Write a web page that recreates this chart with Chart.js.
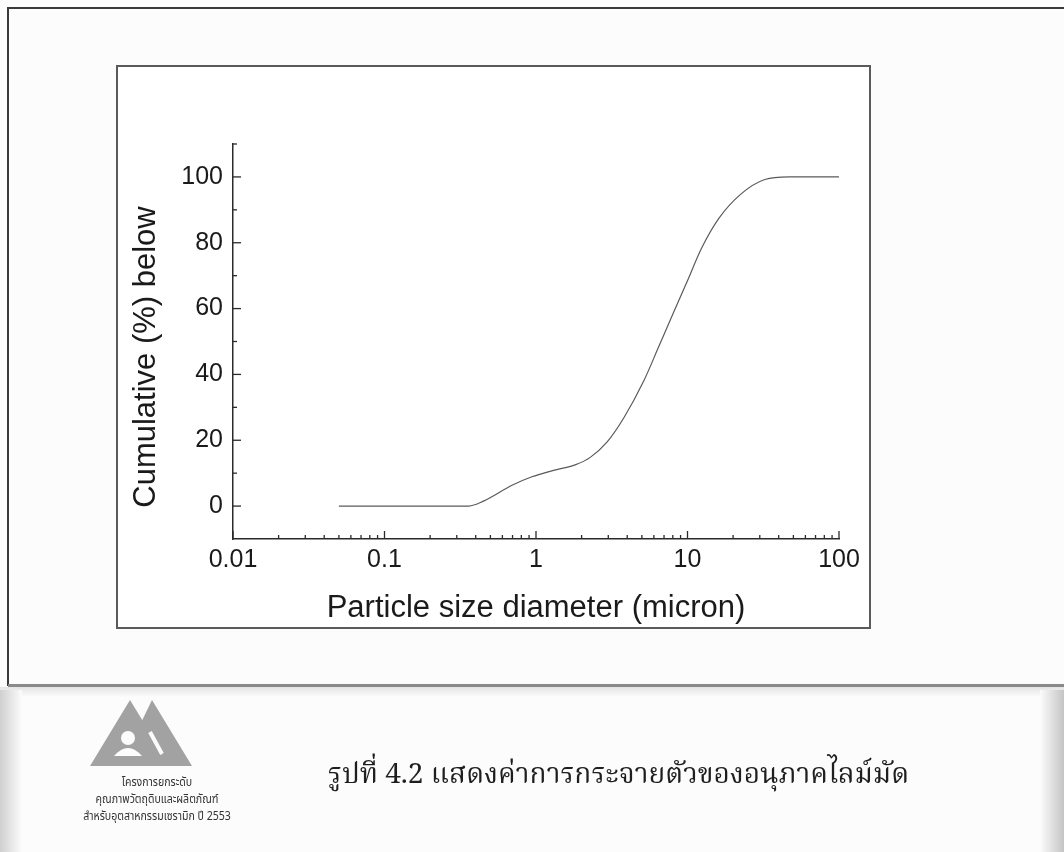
<!DOCTYPE html>
<html>
<head>
<meta charset="utf-8">
<script src="https://cdn.jsdelivr.net/npm/chart.js@4.4.1/dist/chart.umd.min.js"></script>
<style>
  html, body { margin: 0; padding: 0; }
  body { width: 1064px; height: 852px; position: relative; background: #fcfcfc; overflow: hidden; font-family: "Liberation Sans", Arial, sans-serif; }
  #outerTop { position: absolute; left: 7px; top: 7px; width: 1057px; height: 0; border-top: 2px solid #3a3a3a; }
  #outerLeft { position: absolute; left: 7px; top: 7px; width: 0; height: 679px; border-left: 2px solid #3a3a3a; }
  #frame { position: absolute; left: 116px; top: 65px; width: 755px; height: 564px; box-sizing: border-box; border: 2px solid #5a5a5a; background: #ffffff; }
  #sep { position: absolute; left: 8px; top: 684px; width: 1056px; height: 3px; background: #8a8a8a; }
  #band { position: absolute; left: 0; top: 687px; width: 1064px; height: 10px; background: linear-gradient(#e4e4e4, #fcfcfc); }
  #leftSmudge { position: absolute; left: 0; top: 690px; width: 22px; height: 162px; background: linear-gradient(90deg, #cfcfcf, #fcfcfc); }
  #rightSmudge { position: absolute; left: 1040px; top: 690px; width: 24px; height: 162px; background: linear-gradient(90deg, #fcfcfc, #c4c4c4); }
  #chartCanvas { position: absolute; left: 0; top: 0; }
  #logo { position: absolute; left: 86px; top: 696px; }
  .logoText { position: absolute; left: 37px; width: 240px; text-align: center; font-family: "Noto Sans Thai", "Noto Serif Thai", "Loma", "Garuda", "Tlwg Typo", "Norasi", sans-serif; font-size: 12px; color: #333; line-height: 14px; transform: scaleX(0.88); }
  #caption { position: absolute; left: 328px; top: 753px; font-family: "Noto Serif Thai", "Norasi", "Noto Sans Thai", "Loma", "Garuda", serif; font-size: 28px; color: #1e1e1e; white-space: nowrap; }
</style>
</head>
<body>
<div id="outerTop"></div>
<div id="outerLeft"></div>
<div id="frame"></div>
<div id="sep"></div>
<div id="band"></div>
<div id="leftSmudge"></div>
<div id="rightSmudge"></div>
<canvas id="chartCanvas" width="1064" height="852"></canvas>
<svg id="logo" width="110" height="75" viewBox="0 0 110 75">
  <polygon points="4,70 44,4 66,40 66,70" fill="#a2a2a2"/>
  <polygon points="34,70 66,4 106,70" fill="#a2a2a2"/>
  <circle cx="42" cy="42" r="7" fill="#fcfcfc"/>
  <path d="M28,60 Q42,44 56,60 Z" fill="#fcfcfc"/>
  <line x1="64" y1="36" x2="76" y2="58" stroke="#fcfcfc" stroke-width="4"/>
</svg>
<div class="logoText" style="top:775px;">โครงการยกระดับ</div>
<div class="logoText" style="top:792px;">คุณภาพวัตถุดิบและผลิตภัณฑ์</div>
<div class="logoText" style="top:809px;">สำหรับอุตสาหกรรมเซรามิก ปี 2553</div>
<div id="caption">รูปที่ 4.2 แสดงค่าการกระจายตัวของอนุภาคไลม์มัด</div>
<script>
// ---- Data ----
const particleSize = [0.05, 0.1, 0.2, 0.36, 0.45, 0.70, 0.94, 1.27, 1.83, 2.28, 2.95, 3.82, 5.13, 6.40, 7.98, 9.96, 12.4, 16.1, 22.4, 32.4, 46.8, 100];
const cumulativeBelow = [0, 0, 0, 0, 1.5, 6.4, 8.9, 10.7, 12.6, 14.8, 19.5, 27.0, 37.9, 48, 58.2, 68.3, 78.4, 87.4, 94.7, 99.2, 100, 100];
const xTickValues = [0.01, 0.1, 1, 10, 100];
const xTickLabels = ['0.01', '0.1', '1', '10', '100'];
const yTickValues = [0, 20, 40, 60, 80, 100];
const yMinorValues = [10, 30, 50, 70, 90, 110];
const xTitle = 'Particle size diameter (micron)';
const yTitle = 'Cumulative (%) below';

const points = particleSize.map((s, i) => ({ x: s, y: cumulativeBelow[i] }));

const innerTicks = {
  id: 'innerTicks',
  afterDraw(chart) {
    const { ctx, scales: { x, y } } = chart;
    ctx.save();
    ctx.strokeStyle = '#2a2a2a';
    ctx.lineWidth = 1.3;
    for (let d = 0; d < xTickValues.length; d++) {
      const base = xTickValues[d];
      const px = x.getPixelForValue(base);
      ctx.beginPath(); ctx.moveTo(px, y.bottom); ctx.lineTo(px, y.bottom - 8); ctx.stroke();
      if (d < xTickValues.length - 1) {
        for (let m = 2; m <= 9; m++) {
          const mx = x.getPixelForValue(base * m);
          ctx.beginPath(); ctx.moveTo(mx, y.bottom); ctx.lineTo(mx, y.bottom - 4); ctx.stroke();
        }
      }
    }
    yTickValues.forEach(v => {
      const py = y.getPixelForValue(v);
      ctx.beginPath(); ctx.moveTo(x.left, py); ctx.lineTo(x.left + 8, py); ctx.stroke();
    });
    yMinorValues.forEach(v => {
      const py = y.getPixelForValue(v);
      ctx.beginPath(); ctx.moveTo(x.left, py); ctx.lineTo(x.left + 4, py); ctx.stroke();
    });
    // y-axis title (real text), positioned as in the reference
    ctx.fillStyle = '#1a1a1a';
    ctx.font = '31px "Liberation Sans", Arial, sans-serif';
    ctx.textAlign = 'center';
    ctx.textBaseline = 'middle';
    ctx.translate(146, 357);
    ctx.rotate(-Math.PI / 2);
    ctx.fillText(yTitle, 0, 0);
    ctx.restore();
  }
};

new Chart(document.getElementById('chartCanvas'), {
  type: 'scatter',
  data: {
    datasets: [{
      data: points,
      showLine: true,
      borderColor: '#5a5a5a',
      borderWidth: 1.2,
      pointRadius: 0,
      cubicInterpolationMode: 'monotone',
      fill: false
    }]
  },
  options: {
    responsive: false,
    animation: false,
    events: [],
    layout: { padding: { left: 120, top: 144, right: 225, bottom: 226 } },
    plugins: { legend: { display: false }, tooltip: { enabled: false } },
    scales: {
      x: {
        type: 'logarithmic',
        position: 'bottom',
        min: 0.01,
        max: 100,
        afterBuildTicks: (s) => { s.ticks = xTickValues.map(v => ({ value: v })); },
        afterFit: (s) => { s.height = 87; },
        ticks: {
          autoSkip: false, maxRotation: 0, padding: 6,
          color: '#1a1a1a',
          font: { family: '"Liberation Sans", Arial, sans-serif', size: 25 },
          callback: (v) => { const i = xTickValues.indexOf(v); return i >= 0 ? xTickLabels[i] : ''; }
        },
        grid: { display: false, drawTicks: false },
        border: { display: true, color: '#2a2a2a', width: 1.5 },
        title: {
          display: true, text: xTitle, color: '#1a1a1a',
          font: { family: '"Liberation Sans", Arial, sans-serif', size: 31 },
          padding: { top: 0, bottom: -1 }
        }
      },
      y: {
        type: 'linear',
        min: -10,
        max: 110,
        afterBuildTicks: (s) => { s.ticks = yTickValues.map(v => ({ value: v })); },
        afterFit: (s) => { s.width = 113; },
        ticks: {
          padding: 10,
          color: '#1a1a1a',
          font: { family: '"Liberation Sans", Arial, sans-serif', size: 25 }
        },
        grid: { display: false, drawTicks: false },
        border: { display: true, color: '#2a2a2a', width: 1.5 },
        title: { display: false, text: yTitle }
      }
    }
  },
  plugins: [innerTicks]
});
</script>
</body>
</html>
